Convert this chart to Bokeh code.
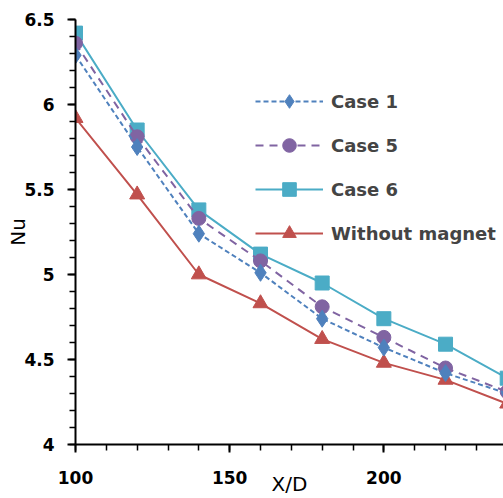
from bokeh.plotting import figure
from bokeh.models import FixedTicker, CustomJSTickFormatter, Legend, LegendItem, Range1d
from bokeh.embed import file_html
from bokeh.resources import INLINE

x_d = [100, 120, 140, 160, 180, 200, 220, 240]
case1 = [6.29, 5.75, 5.24, 5.01, 4.74, 4.57, 4.42, 4.30]
case5 = [6.36, 5.81, 5.33, 5.08, 4.81, 4.63, 4.45, 4.31]
case6 = [6.42, 5.85, 5.38, 5.12, 4.95, 4.74, 4.59, 4.39]
without_magnet = [5.92, 5.47, 5.00, 4.83, 4.62, 4.48, 4.38, 4.24]

y_major = [4.0, 4.5, 5.0, 5.5, 6.0, 6.5]
y_minor = [round(4.0 + 0.1 * i, 1) for i in range(26)]
x_major = [100, 150, 200]
x_minor = [100 + 10 * i for i in range(15)]

FONT = "DejaVu Sans"

p = figure(width=503, height=498, output_backend="svg", toolbar_location=None,
           x_range=Range1d(100, 238.8), y_range=Range1d(4, 6.5),
           min_border_left=75, min_border_top=19, min_border_right=0, min_border_bottom=54)
p.outline_line_color = None
p.xgrid.grid_line_color = None
p.ygrid.grid_line_color = None
p.background_fill_color = "white"
p.border_fill_color = "white"

for ax in (p.xaxis[0], p.yaxis[0]):
    ax.axis_line_color = "black"
    ax.axis_line_width = 2
    ax.major_tick_line_color = "black"
    ax.major_tick_line_width = 2
    ax.minor_tick_line_color = "black"
    ax.minor_tick_line_width = 1.5
    ax.major_tick_in = 0
    ax.major_tick_out = 8
    ax.minor_tick_in = 0
    ax.minor_tick_out = 6
    ax.major_label_text_font = FONT
    ax.major_label_text_font_style = "bold"
    ax.major_label_text_font_size = "17px"
    ax.major_label_text_color = "black"
    ax.axis_label_text_font = FONT
    ax.axis_label_text_font_style = "normal"
    ax.axis_label_text_font_size = "20px"
    ax.axis_label_text_color = "black"

p.xaxis.ticker = FixedTicker(ticks=x_major, minor_ticks=x_minor)
p.yaxis.ticker = FixedTicker(ticks=y_major, minor_ticks=y_minor)
fmt = "return String(Math.round(tick*10)/10);"
p.xaxis.formatter = CustomJSTickFormatter(code=fmt)
p.yaxis.formatter = CustomJSTickFormatter(code=fmt)
p.xaxis.axis_label = "X/D"
p.yaxis.axis_label = "Nu"
p.xaxis.major_label_standoff = 18
p.yaxis.major_label_standoff = 13
p.xaxis.axis_label_standoff = -15
p.yaxis.axis_label_standoff = -9

series = [
    ("Without magnet", without_magnet, "#C0504D", "solid", "triangle", 15),
    ("Case 6", case6, "#4BACC6", "solid", "square", 14),
    ("Case 5", case5, "#8064A2", "8 6", "circle", 14),
    ("Case 1", case1, "#4F81BD", "5 3", "diamond", 17),
]
items = {}
for name, ys, color, dash, marker, size in series:
    l = p.line(x_d, ys, line_color=color, line_width=2, line_dash=dash)
    s = p.scatter(x_d, ys, marker=marker, size=size, fill_color=color, line_color=color)
    items[name] = LegendItem(label=name, renderers=[l, s])

legend = Legend(items=[items["Case 1"], items["Case 5"], items["Case 6"], items["Without magnet"]],
                location=(180, 194), padding=0, margin=0, spacing=10,
                glyph_width=68, glyph_height=34, label_height=34, label_standoff=8,
                label_text_font=FONT, label_text_font_style="bold", label_text_font_size="18px",
                border_line_color=None, background_fill_alpha=0)
p.add_layout(legend)

open("out.html", "w").write(file_html(p, INLINE))
